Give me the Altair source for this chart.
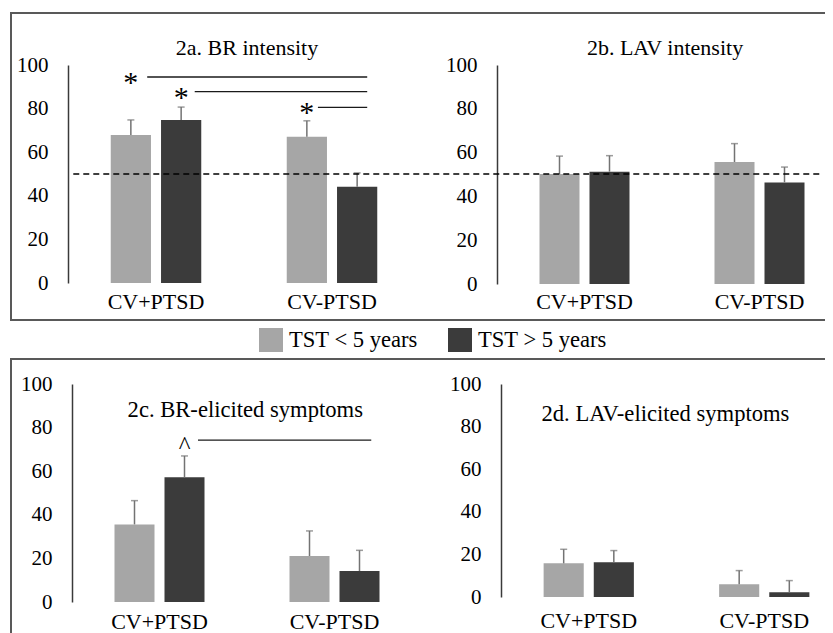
import altair as alt
import pandas as pd

# ---------------- data ----------------
categories = ["CV+PTSD", "CV-PTSD"]
groups = ["TST < 5 years", "TST > 5 years"]
panel_titles = ["2a. BR intensity", "2b. LAV intensity",
                "2c. BR-elicited symptoms", "2d. LAV-elicited symptoms"]
y_ticks = [0, 20, 40, 60, 80, 100]

# group means per category [CV+PTSD, CV-PTSD] and standard errors
a_short_mean = [67.9, 67.1]
a_short_se = [6.9, 7.3]
a_long_mean = [74.8, 44.2]
a_long_se = [5.9, 6.3]

b_short_mean = [50.2, 55.7]
b_short_se = [8.2, 8.4]
b_long_mean = [51.3, 46.4]
b_long_se = [7.3, 7.0]

c_short_mean = [35.6, 21.1]
c_short_se = [10.9, 11.5]
c_long_mean = [57.2, 14.2]
c_long_se = [9.8, 9.5]

d_short_mean = [15.8, 6.0]
d_short_se = [6.6, 6.4]
d_long_mean = [16.3, 2.2]
d_long_se = [5.5, 5.5]

reference_level = [50]

# significance annotations
a_sig_symbol = ["*", "*", "*"]
a_sig_cat = ["CV+PTSD", "CV+PTSD", "CV-PTSD"]
a_sig_grp = ["TST < 5 years", "TST > 5 years", "TST < 5 years"]
a_sig_level = [94.5, 87.8, 80.6]
a_sig_start = [0.45, 0.72, 1.42]
a_sig_end = [1.70, 1.70, 1.70]

c_sig_symbol = ["^"]
c_sig_cat = ["CV+PTSD"]
c_sig_grp = ["TST > 5 years"]
c_sig_level = [74.3]
c_sig_start = [0.72]
c_sig_end = [1.71]

# ---------------- styling ----------------
FONT = "Liberation Serif"
LIGHT = "#a6a6a6"
DARK = "#3b3b3b"
ERR = "#737373"
ROW_W = 850
TOP_H = 307
BOT_H = 285


def bars_table(short_mean, short_se, long_mean, long_se):
    rows = []
    for i, c in enumerate(categories):
        rows.append({"cat": c, "grp": groups[0], "mean": short_mean[i],
                     "upper": short_mean[i] + short_se[i]})
        rows.append({"cat": c, "grp": groups[1], "mean": long_mean[i],
                     "upper": long_mean[i] + long_se[i]})
    return pd.DataFrame(rows)


def sig_table(symbol, cat, grp, level, start, end):
    return pd.DataFrame({"symbol": symbol, "cat": cat, "grp": grp,
                         "level": level, "start": start, "end": end})


def panel(table, title, lay, sig=None, sig_style=None, legend=None, ref=False):
    """Returns (data layers, annotation layers) for one panel."""
    def xs():
        return alt.Scale(type="band", domain=categories, range=lay["x_range"],
                         paddingInner=0, paddingOuter=0)

    def xos():
        return alt.Scale(type="band", domain=groups, paddingInner=0.2, paddingOuter=0.85)

    def ys():
        return alt.Scale(domain=[0, 100], range=lay["y_range"], nice=False, zero=False)

    def xq():
        return alt.Scale(domain=[0, 2], range=lay["x_range"], nice=False, zero=False)

    x_axis = alt.Axis(orient="bottom", offset=lay["x_offset"], labelPadding=lay["x_pad"],
                      labelBaseline="alphabetic", domain=False, ticks=False,
                      grid=False, labelAngle=0, labelFontSize=22, labelFont=FONT,
                      labelColor="#000000", title=None)
    y_axis = alt.Axis(orient="left", offset=lay["y_offset"], values=y_ticks, domain=True,
                      domainColor="#3a3a3a", domainWidth=1.5, ticks=False,
                      grid=False, labelPadding=20, labelFontSize=21, labelFont=FONT,
                      labelColor="#000000", title=None)

    color = alt.Color("grp:N", scale=alt.Scale(domain=groups, range=[LIGHT, DARK]),
                      legend=legend)
    base = alt.Chart(table)
    bars = base.mark_bar().encode(
        x=alt.X("cat:N", scale=xs(), axis=x_axis),
        xOffset=alt.XOffset("grp:N", scale=xos()),
        y=alt.Y("mean:Q", scale=ys(), axis=y_axis), color=color)
    err = base.mark_rule(color=ERR, strokeWidth=1.5).encode(
        x=alt.X("cat:N", scale=xs(), axis=None),
        xOffset=alt.XOffset("grp:N", scale=xos()),
        y=alt.Y("mean:Q", scale=ys(), axis=None), y2="upper:Q")
    cap = base.mark_tick(color=ERR, size=7, thickness=1.5, orient="horizontal").encode(
        x=alt.X("cat:N", scale=xs(), axis=None),
        xOffset=alt.XOffset("grp:N", scale=xos()),
        y=alt.Y("upper:Q", scale=ys(), axis=None))
    main = [bars, err, cap]

    annot = []
    title_df = pd.DataFrame({"label": [title]})
    annot.append(alt.Chart(title_df).mark_text(
        font=FONT, fontSize=lay["title_size"], baseline="alphabetic", align="center",
        color="#000000"
    ).encode(
        x=alt.X(datum=lay["title_x"], type="quantitative", scale=xq(), axis=None),
        y=alt.Y(datum=lay["title_y"], type="quantitative", scale=ys(), axis=None),
        text="label:N"))
    if ref:
        annot.append(alt.Chart(pd.DataFrame({"level": reference_level})).mark_rule(
            color="#000000", strokeWidth=1.6, strokeDash=[6, 4]
        ).encode(
            x=alt.X(datum=0.03, type="quantitative", scale=xq(), axis=None),
            x2=alt.X2(datum=4.27),
            y=alt.Y("level:Q", scale=ys(), axis=None)))
    if sig is not None:
        main.append(alt.Chart(sig).mark_text(
            font=FONT, fontSize=sig_style["size"], dy=sig_style["dy"],
            baseline="alphabetic", align="center", color="#000000"
        ).encode(
            x=alt.X("cat:N", scale=xs(), axis=None),
            xOffset=alt.XOffset("grp:N", scale=xos()),
            y=alt.Y("level:Q", scale=ys(), axis=None), text="symbol:N"))
        annot.append(alt.Chart(sig).mark_rule(color="#1a1a1a", strokeWidth=1.3).encode(
            x=alt.X("start:Q", scale=xq(), axis=None), x2="end:Q",
            y=alt.Y("level:Q", scale=ys(), axis=None)))
    return main, annot


legend = alt.Legend(orient="none", legendX=248, legendY=315, direction="horizontal",
                    title=None, symbolType="square", symbolSize=576, symbolStrokeWidth=0,
                    labelFontSize=22.6, labelFont=FONT, labelColor="#000000", labelOffset=6,
                    columnPadding=30, padding=0, labelLimit=300)

lay_a = dict(x_range=[57, 409], y_range=[270, 52], x_offset=-37, x_pad=25,
             y_offset=-57, title_x=1.017, title_y=104.6, title_size=22)
lay_b = dict(x_range=[486, 836], y_range=[271, 52], x_offset=-36, x_pad=24,
             y_offset=-486, title_x=0.96, title_y=104.6, title_size=22)
lay_c = dict(x_range=[61, 411], y_range=[243, 25], x_offset=-42, x_pad=26,
             y_offset=-61, title_x=0.99, title_y=85.0, title_size=22.6)
lay_d = dict(x_range=[490, 841], y_range=[238, 25], x_offset=-47, x_pad=30,
             y_offset=-490, title_x=0.937, title_y=82.7, title_size=22.6)

a_main, a_annot = panel(bars_table(a_short_mean, a_short_se, a_long_mean, a_long_se),
                        panel_titles[0], lay_a,
                        sig=sig_table(a_sig_symbol, a_sig_cat, a_sig_grp, a_sig_level,
                                      a_sig_start, a_sig_end),
                        sig_style={"size": 30, "dy": 15}, legend=legend, ref=True)
b_main, b_annot = panel(bars_table(b_short_mean, b_short_se, b_long_mean, b_long_se),
                        panel_titles[1], lay_b)
c_main, c_annot = panel(bars_table(c_short_mean, c_short_se, c_long_mean, c_long_se),
                        panel_titles[2], lay_c,
                        sig=sig_table(c_sig_symbol, c_sig_cat, c_sig_grp, c_sig_level,
                                      c_sig_start, c_sig_end),
                        sig_style={"size": 25, "dy": 14})
d_main, d_annot = panel(bars_table(d_short_mean, d_short_se, d_long_mean, d_long_se),
                        panel_titles[3], lay_d)

top_row = alt.layer(*(a_main + b_main + a_annot + b_annot)).resolve_scale(
    x="independent", y="independent", xOffset="independent"
).properties(width=ROW_W, height=TOP_H)

bottom_row = alt.layer(*(c_main + d_main + c_annot + d_annot)).resolve_scale(
    x="independent", y="independent", xOffset="independent"
).properties(width=ROW_W, height=BOT_H)

# the frames run past the right and bottom edges of the picture; negative padding
# crops the drawing to 817 px wide so that the page does not shrink it
chart = alt.vconcat(top_row, bottom_row, spacing=39, bounds="flush").properties(
    padding={"left": 2, "top": 4, "right": -37, "bottom": -12},
    background="white",
).configure(font=FONT).configure_view(stroke="#595959", strokeWidth=2)

chart.save("out.html", embed_options={"renderer": "svg", "actions": False})
